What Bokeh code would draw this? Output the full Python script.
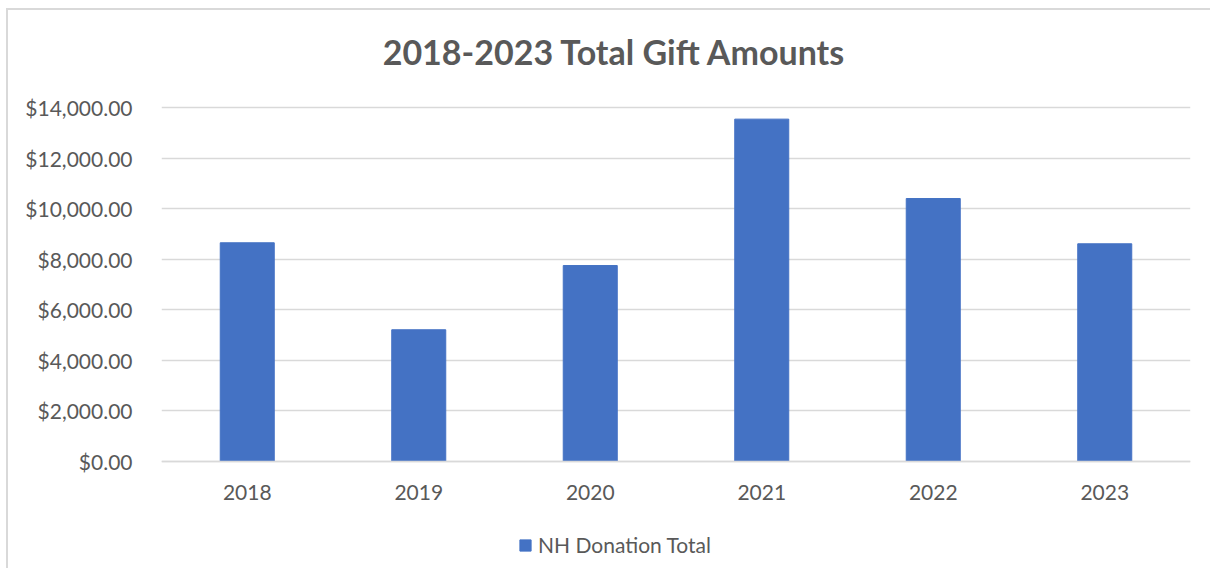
from bokeh.plotting import figure
from bokeh.models import (ColumnDataSource, NumeralTickFormatter, FixedTicker,
                          Legend, LegendItem, Range1d, Label)
from bokeh.embed import file_html
from bokeh.resources import INLINE

years = ["2018", "2019", "2020", "2021", "2022", "2023"]
totals = [8650, 5210, 7750, 13540, 10400, 8610]
series_name = "NH Donation Total"
title_text = "2018-2023 Total Gift Amounts"
y_ticks = [0, 2000, 4000, 6000, 8000, 10000, 12000, 14000]

FONT = "Lato"
TXT = "#595959"
GRID = "#d9d9d9"
BAR = "#4472C4"

# layout: frame spans 18..568 px on the page; value 0 sits at 461 px, 14000 at 107 px
Y_TOP = 14000
PX_PER_UNIT = (461 - 107) / Y_TOP
Y_START = -(568 - 461) / PX_PER_UNIT
Y_END = Y_TOP + (107 - 18) / PX_PER_UNIT

src = ColumnDataSource(dict(year=years, total=totals))

p = figure(x_range=years, y_range=Range1d(Y_START, Y_END), width=1204, height=560,
           output_backend="svg", toolbar_location=None,
           min_border_left=153, min_border_right=22, min_border_top=8,
           min_border_bottom=2)
p.margin = (10, 0, 0, 8)
p.styles = {"box-shadow": "-2px -2px 0px 0px #d9d9d9"}

r = p.vbar(x="year", top="total", width=0.315, source=src, color=BAR)

title = Label(x=614 - 161, y=568 - 64.5 + 14, x_units="screen", y_units="screen",
              text=title_text, text_font=FONT, text_font_size="34px",
              text_font_style="bold", text_color=TXT, text_align="center",
              text_baseline="alphabetic")
p.add_layout(title)

p.outline_line_color = None
p.xgrid.grid_line_color = None
p.ygrid.grid_line_color = GRID
p.ygrid.grid_line_width = 1.5

p.yaxis.ticker = FixedTicker(ticks=y_ticks)
p.yaxis.formatter = NumeralTickFormatter(format="$0,0.00")
p.yaxis.axis_line_color = None
p.yaxis.major_tick_line_color = None
p.yaxis.minor_tick_line_color = None
p.yaxis.major_label_standoff = 23
p.yaxis.major_label_text_font = FONT
p.yaxis.major_label_text_font_size = "21px"
p.yaxis.major_label_text_color = TXT

p.xaxis.fixed_location = 0
p.xaxis.axis_line_color = GRID
p.xaxis.axis_line_width = 1.5
p.xaxis.major_tick_line_color = None
p.xaxis.minor_tick_line_color = None
p.xaxis.major_label_standoff = 17
p.xaxis.major_label_text_font = FONT
p.xaxis.major_label_text_font_size = "21px"
p.xaxis.major_label_text_color = TXT

legend = Legend(items=[LegendItem(label=series_name, renderers=[r])],
                orientation="horizontal", location=(357, 11),
                border_line_color=None, background_fill_alpha=0,
                label_text_font=FONT, label_text_font_size="21px",
                label_text_color=TXT, glyph_width=14, glyph_height=14,
                label_standoff=6, padding=0, margin=0)
p.add_layout(legend)

open("out.html", "w").write(file_html(p, INLINE))
